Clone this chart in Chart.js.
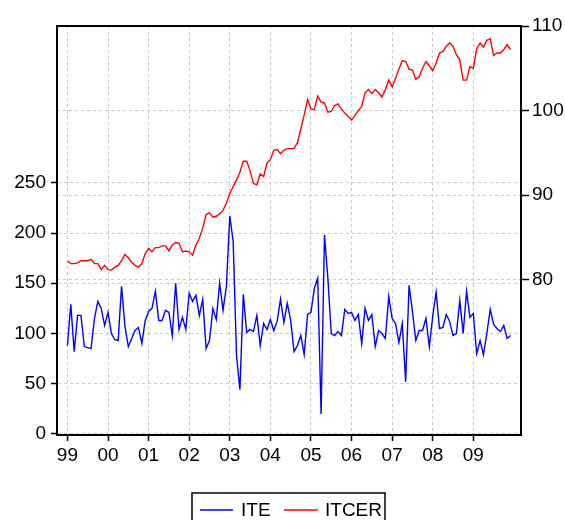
<!DOCTYPE html>
<html>
<head>
<meta charset="utf-8">
<script src="https://cdn.jsdelivr.net/npm/chart.js@4"></script>
<style>
  html, body { margin: 0; padding: 0; background: #fff; }
  #wrap { width: 565px; height: 520px; position: relative; }
</style>
</head>
<body>
<div id="wrap"><canvas id="c" width="565" height="520"></canvas></div>
<script>
// Year tick labels (one per January, starting 1999)
const yearLabels = ['99','00','01','02','03','04','05','06','07','08','09'];
const leftTicks = [0, 50, 100, 150, 200, 250];
const rightTicks = [80, 90, 100, 110];
const seriesNames = ['ITE', 'ITCER'];

// Monthly values, Jan 1999 .. Dec 2009
const iteValues = [
  88,129,82,118,118,87,86,85,115,132,125,108,
  121,100,94,93,147,107,87,95,103,106,90,113,
  122,125,142,113,113,123,121,98,150,104,116,104,
  140,132,138,118,134,85,93,125,114,150,123,147,
  217,192,78,44,139,101,104,102,118,88,110,104,
  114,103,112,134,111,130,113,82,88,98,79,119,
  121,145,155,20,198,155,100,98,102,98,124,120,
  121,113,119,90,125,113,119,87,103,100,95,137,
  115,110,91,110,52,148,122,93,103,103,115,87,
  117,141,105,106,119,112,98,100,133,100,142,116,
  120,80,93,79,100,124,109,105,102,108,95,98
];
const itcerValues = [
  82.2,81.9,81.9,82.0,82.25,82.25,82.25,82.4,81.9,81.9,81.2,81.7,
  81.2,81.15,81.5,81.7,82.25,83.0,82.6,82.05,81.7,81.5,81.9,83.1,
  83.7,83.3,83.8,83.8,84.0,84.0,83.4,84.1,84.4,84.3,83.3,83.4,
  83.3,82.9,84.1,84.9,86.1,87.7,87.9,87.4,87.5,87.8,88.2,89.05,
  90.2,91.0,91.8,92.7,94.0,94.0,92.9,91.4,91.2,92.5,92.2,93.8,
  94.2,95.3,95.4,94.9,95.3,95.5,95.5,95.5,96.2,97.8,99.5,101.3,
  100.2,100.1,101.7,101.0,100.9,99.8,99.9,100.6,100.8,100.2,99.7,99.3,
  98.9,99.4,100.0,100.5,102.1,102.5,102.0,102.5,102.1,101.6,102.5,103.6,
  102.8,103.8,104.9,105.9,105.8,104.9,104.8,103.7,104.0,105.0,105.8,105.3,
  104.7,105.6,106.8,107.0,107.6,108.0,107.6,106.6,106.0,103.6,103.6,105.2,
  105.0,107.3,108.0,107.5,108.3,108.5,106.5,106.8,106.8,107.2,107.8,107.2
];

function hasFont(name) {
  const c = document.createElement('canvas').getContext('2d');
  const t = '0123456789 ITCER';
  c.font = '40px monospace';
  const w1 = c.measureText(t).width;
  c.font = '40px "' + name + '", monospace';
  const w2 = c.measureText(t).width;
  return Math.abs(w1 - w2) > 0.5;
}
const NARROW = hasFont('Liberation Sans Narrow');
const FONT = NARROW ? "'Liberation Sans Narrow', 'Liberation Sans', Arial, sans-serif" : "'Liberation Sans', Arial, sans-serif";
const FSIZE = NARROW ? 22 : 19;

const iteData = iteValues.map((v, i) => ({ x: i, y: v }));
const itcerData = itcerValues.map((v, i) => ({ x: i, y: v }));
const yearTickVals = yearLabels.map((_, k) => k * 12);

const framePlugin = {
  id: 'frame',
  afterDraw(chart) {
    const { ctx, chartArea: a } = chart;
    ctx.save();
    ctx.strokeStyle = '#000';
    ctx.lineWidth = 2;
    ctx.strokeRect(a.left, a.top, a.right - a.left, a.bottom - a.top);
    // legend
    const lx = 192, ly = 493, lw = 193, lh = 40;
    ctx.lineWidth = 1.5;
    ctx.strokeRect(lx, ly, lw, lh);
    const cy = 510;
    ctx.lineWidth = 1.4;
    ctx.strokeStyle = '#0000ff';
    ctx.beginPath(); ctx.moveTo(200, cy); ctx.lineTo(233, cy); ctx.stroke();
    ctx.strokeStyle = '#ff0000';
    ctx.beginPath(); ctx.moveTo(284, cy); ctx.lineTo(318, cy); ctx.stroke();
    ctx.fillStyle = '#000';
    ctx.font = FSIZE + 'px ' + FONT;
    ctx.textBaseline = 'middle';
    ctx.textAlign = 'left';
    ctx.fillText(seriesNames[0], 241, cy + 1);
    ctx.fillText(seriesNames[1], 325, cy + 1);
    ctx.restore();
  }
};

const gridCommon = { color: '#c8c8c8', lineWidth: 1, tickColor: '#000', tickWidth: 1.5, tickBorderDash: [] };
const borderCommon = { display: true, color: '#000', width: 2, dash: [3, 3] };

new Chart(document.getElementById('c'), {
  type: 'line',
  data: {
    datasets: [
      { label: seriesNames[0], data: iteData, yAxisID: 'y', borderColor: '#0000ff', borderWidth: 1.4, pointRadius: 0, tension: 0, fill: false },
      { label: seriesNames[1], data: itcerData, yAxisID: 'y1', borderColor: '#ff0000', borderWidth: 1.4, pointRadius: 0, tension: 0, fill: false }
    ]
  },
  options: {
    responsive: false,
    animation: false,
    devicePixelRatio: 1,
    layout: { padding: { top: 26, left: 0, right: 0, bottom: 0 } },
    plugins: { legend: { display: false }, tooltip: { enabled: false } },
    scales: {
      x: {
        type: 'linear',
        min: -3.08,
        max: 134.1,
        afterBuildTicks(s) { s.ticks = yearTickVals.map(v => ({ value: v })); },
        afterFit(s) { s.height = 85; },
        ticks: {
          autoSkip: false, maxRotation: 0, padding: 3,
          color: '#000', font: { family: FONT, size: FSIZE },
          callback(v) { const k = Math.round(v / 12); return yearLabels[k]; }
        },
        grid: Object.assign({ tickLength: 6 }, gridCommon),
        border: borderCommon
      },
      y: {
        position: 'left',
        min: -1,
        max: 406,
        afterBuildTicks(s) { s.ticks = leftTicks.map(v => ({ value: v })); },
        afterFit(s) { s.width = 57; },
        ticks: { color: '#000', font: { family: FONT, size: FSIZE }, padding: 5 },
        grid: Object.assign({ tickLength: 6 }, gridCommon),
        border: borderCommon
      },
      y1: {
        position: 'right',
        min: 61.64,
        max: 110,
        afterBuildTicks(s) { s.ticks = rightTicks.map(v => ({ value: v })); },
        afterFit(s) { s.width = 44; },
        ticks: { color: '#000', font: { family: FONT, size: FSIZE }, padding: 3 },
        grid: Object.assign({ tickLength: 8 }, gridCommon),
        border: borderCommon
      }
    }
  },
  plugins: [framePlugin]
});
</script>
</body>
</html>
